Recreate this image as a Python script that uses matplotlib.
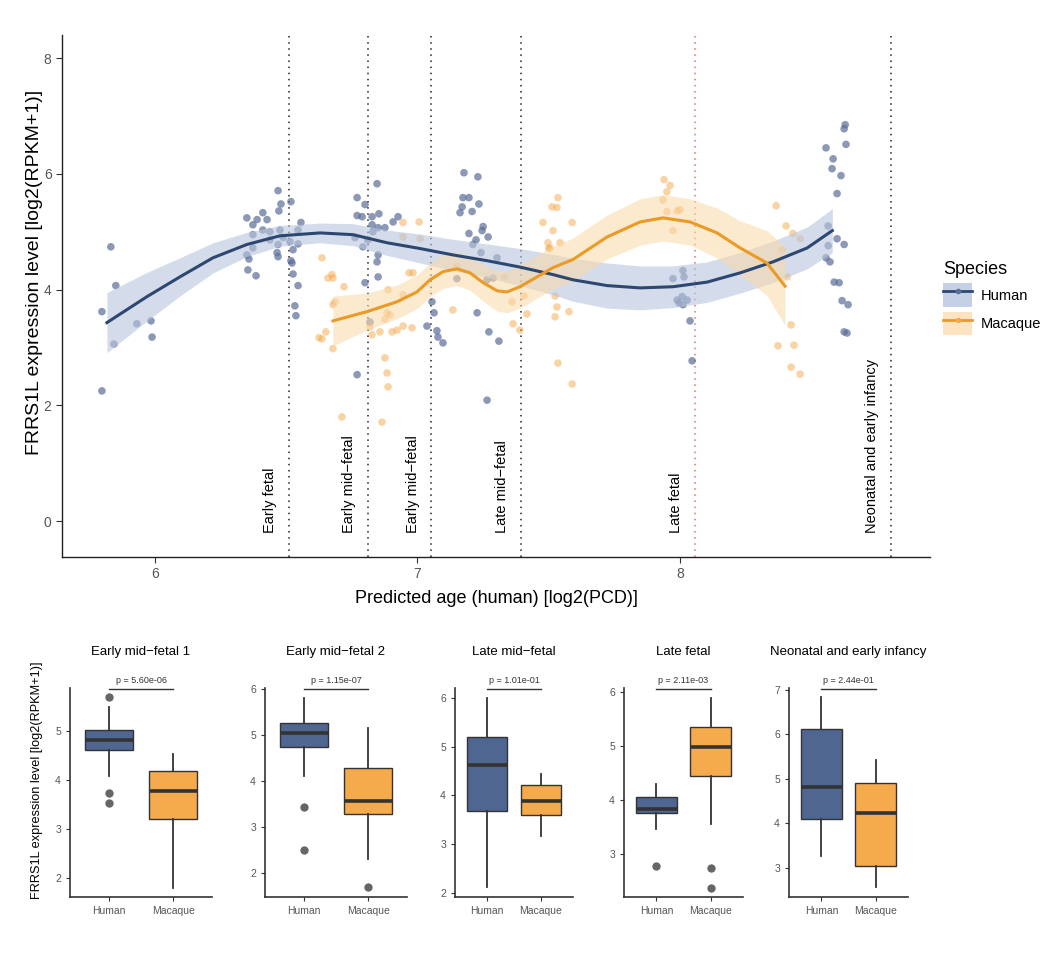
import matplotlib
matplotlib.use("Agg")
import matplotlib.pyplot as plt
from matplotlib.patches import Patch
from matplotlib.lines import Line2D

plt.rcParams['font.family'] = ['Liberation Sans', 'DejaVu Sans']

# ---- top panel data ----
hum_x = [5.832, 5.851, 5.798, 5.844, 5.798, 5.931, 5.985, 5.989,
         6.469, 6.518, 6.480, 6.472, 6.350, 6.411, 6.389, 6.427, 6.373, 6.411, 6.438, 6.476,
         6.556, 6.545, 6.373, 6.488, 6.514, 6.545, 6.438, 6.469, 6.373, 6.526, 6.350, 6.465,
         6.358, 6.469, 6.518, 6.522, 6.354, 6.385, 6.526, 6.545, 6.533, 6.537,
         6.846, 6.770, 6.800, 6.770, 6.789, 6.827, 6.853, 6.827, 6.850, 6.876, 6.830, 6.926,
         6.907, 6.762, 6.811, 6.792, 6.850, 6.846, 6.850, 6.800, 6.819, 6.770,
         7.055, 7.063, 7.036, 7.074, 7.097, 7.078,
         7.177, 7.230, 7.173, 7.196, 7.234, 7.170, 7.162, 7.208, 7.250, 7.246, 7.196, 7.269,
         7.223, 7.211, 7.242, 7.303, 7.150, 7.288, 7.265, 7.227, 7.272, 7.310, 7.265,
         8.011, 8.015, 7.973, 7.989, 8.008, 8.027, 8.011, 7.996, 8.038, 8.046,
         8.629, 8.625, 8.632, 8.556, 8.583, 8.579, 8.613, 8.598, 8.564, 8.598, 8.625, 8.564,
         8.556, 8.571, 8.587, 8.606, 8.617, 8.640, 8.625, 8.636]
hum_y = [4.74, 4.07, 3.62, 3.06, 2.25, 3.41, 3.46, 3.18,
         5.71, 5.52, 5.48, 5.36, 5.24, 5.33, 5.21, 5.21, 5.12, 5.03, 5.00, 5.03,
         5.16, 5.03, 4.95, 4.90, 4.83, 4.79, 4.86, 4.78, 4.72, 4.69, 4.60, 4.64,
         4.53, 4.57, 4.50, 4.46, 4.34, 4.24, 4.27, 4.07, 3.72, 3.55,
         5.83, 5.59, 5.47, 5.28, 5.26, 5.26, 5.31, 5.12, 5.07, 5.07, 5.00, 5.26,
         5.17, 4.90, 4.86, 4.74, 4.60, 4.48, 4.22, 4.12, 3.44, 2.53,
         3.79, 3.60, 3.37, 3.29, 3.08, 3.18,
         6.02, 5.95, 5.59, 5.59, 5.48, 5.43, 5.33, 5.35, 5.09, 5.02, 4.97, 4.91,
         4.86, 4.78, 4.64, 4.55, 4.19, 4.20, 4.17, 3.60, 3.27, 3.11, 2.09,
         4.33, 4.22, 4.19, 3.82, 3.88, 3.82, 3.74, 3.77, 3.46, 2.77,
         6.85, 6.78, 6.51, 6.45, 6.26, 6.09, 5.97, 5.66, 5.10, 4.88, 4.78, 4.76,
         4.55, 4.48, 4.13, 4.12, 3.81, 3.74, 3.27, 3.25]

mac_x = [6.636, 6.659, 6.651, 6.625, 6.674, 6.678, 6.720, 6.686, 6.678, 6.636, 6.678,
         6.712, 6.865, 6.876, 6.884, 6.888, 6.945, 7.006, 6.945, 7.010, 6.968, 6.983,
         6.888, 6.945, 6.884, 6.895, 6.876, 6.819, 6.857, 6.827, 6.903, 6.922, 6.945, 6.979,
         7.135, 7.150, 7.364, 7.390, 7.360, 7.333, 7.417, 7.406,
         7.478, 7.512, 7.531, 7.516, 7.505, 7.497, 7.524, 7.531, 7.524, 7.535,
         7.535, 7.589, 7.543, 7.500, 7.577, 7.589,
         7.939, 7.962, 7.950, 7.935, 7.950, 7.989, 8.000, 7.973,
         8.366, 8.404, 8.430, 8.457, 8.389, 8.408, 8.423, 8.373, 8.434, 8.423, 8.457]
mac_y = [4.55, 4.20, 3.27, 3.17, 4.26, 4.20, 4.05, 3.79, 3.74, 3.15, 2.98,
         1.80, 1.71, 2.82, 2.56, 2.32, 5.16, 5.17, 4.91, 4.88, 4.29, 4.29,
         4.00, 3.91, 3.60, 3.56, 3.49, 3.36, 3.27, 3.22, 3.27, 3.30, 3.37, 3.34,
         3.65, 4.41, 3.41, 3.30, 3.79, 4.22, 3.58, 3.89,
         5.16, 5.43, 5.42, 5.02, 4.72, 4.81, 3.89, 3.70, 3.53, 2.73,
         5.59, 5.16, 4.81, 4.71, 3.62, 2.37,
         5.90, 5.80, 5.69, 5.55, 5.35, 5.36, 5.38, 5.02,
         5.45, 5.10, 4.97, 4.88, 4.69, 4.22, 3.39, 3.03, 3.04, 2.66, 2.54]

# smooth fits (value and half-width of the band)
hum_fit_x = [5.817, 5.970, 6.095, 6.221, 6.350, 6.476, 6.629, 6.754, 6.884, 7.010,
             7.135, 7.265, 7.390, 7.516, 7.592, 7.722, 7.848, 7.973, 8.103, 8.229,
             8.354, 8.484, 8.580]
hum_fit_y = [3.43, 3.88, 4.22, 4.55, 4.78, 4.93, 4.98, 4.95, 4.81, 4.71,
             4.60, 4.50, 4.39, 4.26, 4.17, 4.07, 4.03, 4.05, 4.13, 4.29,
             4.48, 4.72, 5.02]
hum_fit_se = [0.52, 0.42, 0.33, 0.26, 0.21, 0.18, 0.17, 0.19, 0.22, 0.25,
              0.27, 0.29, 0.32, 0.35, 0.37, 0.39, 0.38, 0.36, 0.35, 0.35,
              0.36, 0.36, 0.38]
mac_fit_x = [6.678, 6.808, 6.922, 6.998, 7.048, 7.097, 7.150, 7.200, 7.250, 7.303,
             7.341, 7.390, 7.455, 7.516, 7.592, 7.722, 7.848, 7.935, 8.038, 8.141,
             8.229, 8.331, 8.400]
mac_fit_y = [3.46, 3.62, 3.79, 3.96, 4.17, 4.31, 4.36, 4.29, 4.12, 3.98,
             3.96, 4.05, 4.22, 4.38, 4.52, 4.91, 5.17, 5.24, 5.17, 4.98,
             4.72, 4.46, 4.06]
mac_fit_se = [0.43, 0.32, 0.29, 0.29, 0.29, 0.29, 0.29, 0.30, 0.32, 0.35,
              0.36, 0.37, 0.37, 0.37, 0.37, 0.38, 0.40, 0.40, 0.40, 0.43,
              0.47, 0.56, 0.68]

stage_x = [6.51, 6.81, 7.053, 7.394, 8.057, 8.804]
stage_labels = ['Early fetal', 'Early mid\u2212fetal', 'Early mid\u2212fetal',
                'Late mid\u2212fetal', 'Late fetal', 'Neonatal and early infancy']

# ---- box panels ----
panel_titles = ['Early mid\u2212fetal 1', 'Early mid\u2212fetal 2', 'Late mid\u2212fetal',
                'Late fetal', 'Neonatal and early infancy']
p_values = ['p = 5.60e-06', 'p = 1.15e-07', 'p = 1.01e-01', 'p = 2.11e-03', 'p = 2.44e-01']
species = ['Human', 'Macaque']
# whislo, q1, med, q3, whishi per panel
hum_box = [[4.08, 4.61, 4.81, 5.02, 5.50],
           [4.11, 4.74, 5.04, 5.26, 5.81],
           [2.12, 3.69, 4.62, 5.20, 6.00],
           [3.46, 3.76, 3.84, 4.06, 4.29],
           [3.26, 4.10, 4.81, 6.11, 6.84]]
hum_fliers = [[5.70, 3.73, 3.54], [3.44, 2.51], [], [2.78], []]
mac_box = [[1.80, 3.20, 3.78, 4.18, 4.54],
           [2.31, 3.29, 3.57, 4.29, 5.15],
           [3.17, 3.59, 3.88, 4.22, 4.44],
           [3.55, 4.44, 4.99, 5.36, 5.90],
           [2.56, 3.03, 4.22, 4.91, 5.43]]
mac_fliers = [[], [1.71], [], [2.73, 2.37], []]
panel_ylim = [(1.62, 5.88), (1.49, 6.02), (1.92, 6.2), (2.2, 6.08), (2.34, 7.04)]
panel_ticks = [[2, 3, 4, 5], [2, 3, 4, 5, 6], [2, 3, 4, 5, 6], [3, 4, 5, 6], [3, 4, 5, 6, 7]]

HUM_LINE = '#2c4770'
HUM_PT = '#5b6e98'
HUM_BAND = '#b8c5de'
MAC_LINE = '#eb9a25'
MAC_PT = '#f5a94a'
MAC_BAND = '#fbd9a8'
HUM_BOX = '#4f6690'
MAC_BOX = '#f5aa4c'
TICK_GREY = '#555555'

W, H = 1040, 958
fig = plt.figure(figsize=(W / 100, H / 100), dpi=100)


def frac(x0, y0, x1, y1):
    return [x0 / W, 1 - y1 / H, (x1 - x0) / W, (y1 - y0) / H]


ax = fig.add_axes(frac(62, 35, 930, 557))
ax.scatter(hum_x, hum_y, s=30, color=HUM_PT, alpha=0.7, edgecolors='none', zorder=2)
ax.scatter(mac_x, mac_y, s=30, color=MAC_PT, alpha=0.5, edgecolors='none', zorder=2)

hl = [y - s for y, s in zip(hum_fit_y, hum_fit_se)]
hu = [y + s for y, s in zip(hum_fit_y, hum_fit_se)]
ml = [y - s for y, s in zip(mac_fit_y, mac_fit_se)]
mu = [y + s for y, s in zip(mac_fit_y, mac_fit_se)]
ax.fill_between(hum_fit_x, hl, hu, color=HUM_BAND, alpha=0.6, lw=0, zorder=3)
ax.fill_between(mac_fit_x, ml, mu, color=MAC_BAND, alpha=0.55, lw=0, zorder=3)
ax.plot(hum_fit_x, hum_fit_y, color=HUM_LINE, lw=2.2, zorder=4, solid_joinstyle='round')
ax.plot(mac_fit_x, mac_fit_y, color=MAC_LINE, lw=2.2, zorder=4, solid_joinstyle='round')

for sx, lab in zip(stage_x, stage_labels):
    col = '#e07070' if lab == 'Late fetal' else '#222222'
    ax.axvline(sx, color=col, ls=(0, (1, 3)), lw=1.1, zorder=1)
    ax.text(sx - 0.045, -0.2, lab, rotation=90, ha='right', va='bottom',
            fontsize=10.5, color='black')

ax.set_xlim(5.646, 8.952)
ax.set_ylim(-0.62, 8.4)
ax.set_xticks([6, 7, 8])
ax.set_yticks([0, 2, 4, 6, 8])
for sp in ['top', 'right']:
    ax.spines[sp].set_visible(False)
for sp in ['left', 'bottom']:
    ax.spines[sp].set_linewidth(1.0)
    ax.spines[sp].set_color('#222222')
ax.tick_params(colors='#333333', labelcolor=TICK_GREY, labelsize=10, length=4)
ax.set_xlabel('Predicted age (human) [log2(PCD)]', fontsize=13, labelpad=6)
ax.set_ylabel('FRRS1L expression level [log2(RPKM+1)]', fontsize=14)
ax.yaxis.set_label_coords(-0.022, 0.546)

handles = [(Patch(facecolor=HUM_BAND, edgecolor='none', alpha=0.8),
            Line2D([], [], color=HUM_LINE, lw=2, marker='o', ms=4, mfc=HUM_PT, mec='none')),
           (Patch(facecolor=MAC_BAND, edgecolor='none', alpha=0.7),
            Line2D([], [], color=MAC_LINE, lw=2, marker='o', ms=4, mfc=MAC_PT, mec='none'))]
fig.legend(handles, species, title='Species', loc='upper left',
           bbox_to_anchor=(930 / W, 1 - 248 / H), frameon=False, fontsize=10.5,
           title_fontsize=13, alignment='left', handlelength=2.0, handleheight=2.1,
           labelspacing=0.35, handletextpad=0.6)

# ---- bottom box panels ----
panel_px = [(70, 212), (265, 407), (455, 573), (624, 743), (789, 908)]
for i in range(5):
    x0, x1 = panel_px[i]
    bx = fig.add_axes(frac(x0, 688, x1, 897))
    stats = []
    for vals, fl in [(hum_box[i], hum_fliers[i]), (mac_box[i], mac_fliers[i])]:
        stats.append(dict(whislo=vals[0], q1=vals[1], med=vals[2], q3=vals[3],
                          whishi=vals[4], fliers=fl))
    res = bx.bxp(stats, positions=[1, 2], widths=0.75, patch_artist=True,
                 showcaps=False,
                 boxprops=dict(edgecolor='#333333', linewidth=1.0),
                 whiskerprops=dict(color='#333333', linewidth=1.3),
                 medianprops=dict(color='#333333', linewidth=2.6),
                 flierprops=dict(marker='o', markerfacecolor='#666666',
                                 markeredgecolor='none', markersize=6))
    res['boxes'][0].set_facecolor(HUM_BOX)
    res['boxes'][1].set_facecolor(MAC_BOX)
    for b in res['boxes']:
        b.set_zorder(2)
    for m in res['medians']:
        m.set_zorder(3)
    lo, hi = panel_ylim[i]
    bx.set_ylim(lo, hi)
    bx.set_xlim(0.4, 2.6)
    bx.set_yticks(panel_ticks[i])
    bx.set_xticks([1, 2])
    bx.set_xticklabels(species)
    bx.plot([1, 2], [hi - 0.02, hi - 0.02], color='#333333', lw=1.0, clip_on=False)
    bx.text(1.5, hi + (hi - lo) * 0.015, p_values[i], ha='center', va='bottom',
            fontsize=6.5, color='#333333')
    bx.text(0.5, 1.17, panel_titles[i], transform=bx.transAxes, ha='center',
            va='center', fontsize=9.5)
    for sp in ['top', 'right']:
        bx.spines[sp].set_visible(False)
    for sp in ['left', 'bottom']:
        bx.spines[sp].set_linewidth(1.2)
        bx.spines[sp].set_color('#333333')
    bx.tick_params(colors='#333333', labelcolor=TICK_GREY, labelsize=7.5, length=3)
    if i == 0:
        bx.set_ylabel('FRRS1L expression level [log2(RPKM+1)]', fontsize=9.2)
        bx.yaxis.set_label_coords(-0.19, 0.56)

fig.savefig('out.png', dpi=100)
